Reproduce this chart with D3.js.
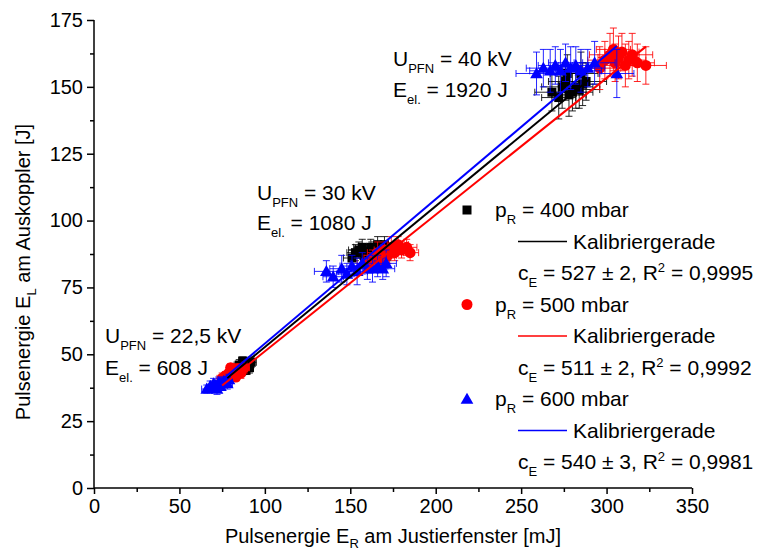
<!DOCTYPE html>
<html>
<head>
<meta charset="utf-8">
<script src="https://cdn.jsdelivr.net/npm/d3@7"></script>
<style>
  body { margin: 0; background: #fff; }
  text { font-family: "Liberation Sans", Arial, sans-serif; fill: #000; }
</style>
</head>
<body>
<div id="chart"></div>
<script>
// each point: [E_R (mJ), E_L (J), error E_R, error E_L]
const p400 = [
  [82, 43, 2, 1.5], [84, 44, 3, 2], [85, 45, 2, 2], [86, 43.5, 3, 1.5], [87, 46, 2, 2], [88, 45, 3, 2],
  [89, 44, 2, 1.5], [90, 46.5, 3, 2], [91, 45, 2, 2], [92, 47, 3, 2], [87, 47.5, 2, 1.5], [85, 46, 3, 2],
  [151, 86, 5, 3], [153, 88, 5, 3], [155, 89, 6, 3], [158, 87, 5, 4], [160, 88, 6, 3], [162, 90, 5, 3],
  [164, 88, 6, 4], [166, 91, 5, 3], [168, 89, 6, 3], [170, 91, 5, 3], [157, 90, 5, 3], [172, 88, 6, 3],
  [268, 148, 10, 7], [272, 146, 10, 8], [274, 150, 12, 8], [276, 152, 10, 7], [278, 147, 10, 8], [280, 148, 12, 7],
  [282, 150, 10, 8], [284, 149, 12, 7], [286, 151, 10, 8], [288, 152, 12, 7], [277, 155, 10, 7], [285, 155, 10, 8]
];
const p500 = [
  [75, 41, 3, 2], [77, 42, 2, 1.5], [78, 40.5, 3, 2], [79, 43, 2, 2], [80, 42, 3, 1.5], [81, 44, 2, 2],
  [82, 43, 3, 2], [83, 41.5, 2, 1.5], [84, 44.5, 3, 2], [86, 43, 2, 2], [88, 45, 3, 2], [80, 45, 2, 1.5],
  [160, 84, 6, 3], [163, 86, 5, 3], [166, 88, 6, 4], [168, 85, 5, 3], [170, 89, 6, 3], [172, 87, 5, 3],
  [174, 90, 6, 4], [176, 88, 5, 3], [178, 91, 6, 3], [180, 89, 5, 3], [183, 90, 6, 3], [185, 88, 5, 3],
  [296, 157, 12, 8], [299, 160, 10, 7], [302, 162, 12, 8], [305, 159, 10, 7], [307, 161, 12, 8], [309, 163, 10, 7],
  [311, 158, 12, 8], [313, 160, 10, 7], [315, 162, 12, 8], [318, 159, 10, 7], [323, 158, 12, 7], [304, 164, 10, 8]
];
const p600 = [
  [66, 37, 3, 1.5], [68, 38, 2, 2], [69, 37.5, 3, 1.5], [70, 39, 2, 2], [71, 38.5, 3, 1.5], [72, 37, 2, 2],
  [73, 39.5, 3, 2], [74, 38, 2, 1.5], [75, 39, 3, 2], [76, 40, 2, 1.5], [78, 39, 3, 2], [79, 40.5, 2, 2],
  [136, 81, 7, 4], [140, 79, 6, 4], [145, 82, 7, 5], [148, 80, 6, 4], [151, 83, 7, 4], [154, 81, 6, 5],
  [157, 84, 7, 4], [160, 82, 6, 4], [163, 82, 7, 5], [166, 83, 6, 4], [169, 82, 7, 4], [171, 84, 6, 5],
  [259, 155, 12, 8], [263, 157, 10, 7], [267, 156, 12, 8], [270, 158, 10, 7], [273, 156, 12, 8], [276, 159, 10, 7],
  [279, 157, 12, 8], [282, 158, 10, 7], [285, 156, 12, 8], [289, 157, 10, 7], [293, 159, 12, 8], [306, 155, 10, 9]
];

const pressures = ["400", "500", "600"];
const calibC = [527, 511, 540];       // c_E, E_L[J] = c_E * E_R[J]
const calibErr = [2, 2, 3];
const rSquared = ["0,9995", "0,9992", "0,9981"];
const fitRange = [[78, 290], [75, 323], [66, 306]];

const voltages = ["22,5 kV", "30 kV", "40 kV"];
const elEnergies = ["608 J", "1080 J", "1920 J"];

const xTickValues = [0, 50, 100, 150, 200, 250, 300, 350];
const yTickValues = [0, 25, 50, 75, 100, 125, 150, 175];

const colors = ["#000000", "#ff0000", "#0000ff"];
const allSeries = [p400, p500, p600];

// set the dimensions and margins of the graph
const width = 757, height = 554;
const margin = {top: 20, right: 65, bottom: 66, left: 94};

const svg = d3.select("#chart").append("svg")
  .attr("width", width)
  .attr("height", height);

const x = d3.scaleLinear().domain([0, 350]).range([margin.left, width - margin.right]);
const y = d3.scaleLinear().domain([0, 175]).range([height - margin.bottom, margin.top]);

// axes
const xAxisG = svg.append("g")
  .attr("transform", `translate(0,${y(0)})`)
  .call(d3.axisBottom(x).tickValues(xTickValues).tickSize(6).tickPadding(5));
svg.append("g")
  .attr("transform", `translate(0,${y(0)})`)
  .call(d3.axisBottom(x).tickValues(d3.range(25, 350, 50)).tickSize(4).tickFormat(""))
  .select(".domain").remove();

const yAxisG = svg.append("g")
  .attr("transform", `translate(${x(0)},0)`)
  .call(d3.axisLeft(y).tickValues(yTickValues).tickSize(7).tickPadding(4));
svg.append("g")
  .attr("transform", `translate(${x(0)},0)`)
  .call(d3.axisLeft(y).tickValues(d3.range(12.5, 175, 25)).tickSize(4).tickFormat(""))
  .select(".domain").remove();

svg.selectAll(".domain").attr("stroke-width", 1.5).attr("stroke", "#000");
svg.selectAll(".tick line").attr("stroke-width", 1.5).attr("stroke", "#000");
svg.selectAll(".tick text")
  .attr("font-size", 20)
  .style("font-family", '"Liberation Sans", Arial, sans-serif');
xAxisG.selectAll(".domain").attr("d", `M${x(0)},0H${x(350)}`);
yAxisG.selectAll(".domain").attr("d", `M0,${y(0)}V${y(175)}`);

// axis titles
const xt = svg.append("text")
  .attr("x", (x(0) + x(350)) / 2)
  .attr("y", 543)
  .attr("text-anchor", "middle")
  .attr("font-size", 20);
xt.append("tspan").text("Pulsenergie E");
xt.append("tspan").attr("font-size", 13).attr("dy", 5).text("R");
xt.append("tspan").attr("dy", -5).text(" am Justierfenster [mJ]");

const yt = svg.append("text")
  .attr("transform", `translate(30,${(y(0) + y(175)) / 2 + 18}) rotate(-90)`)
  .attr("text-anchor", "middle")
  .attr("font-size", 20);
yt.append("tspan").text("Pulsenergie E");
yt.append("tspan").attr("font-size", 13).attr("dy", 6).text("L");
yt.append("tspan").attr("dy", -6).text(" am Auskoppler [J]");

// markers
function drawMarker(g, i, cx, cy) {
  if (i === 0) {
    g.append("rect").attr("x", cx - 4.5).attr("y", cy - 4.5).attr("width", 9).attr("height", 9)
      .attr("fill", colors[i]);
  } else if (i === 1) {
    g.append("circle").attr("cx", cx).attr("cy", cy).attr("r", 5.5).attr("fill", colors[i]);
  } else {
    g.append("path").attr("d", d3.symbol(d3.symbolTriangle, 70)()).attr("transform", `translate(${cx},${cy + 1})`)
      .attr("fill", colors[i]);
  }
}

// error bars and points
allSeries.forEach((data, i) => {
  const g = svg.append("g");
  const cap = 3.5;
  data.forEach(d => {
    const [ex, ey, dx, dy] = d;
    const px = x(ex), py = y(ey);
    const x1 = x(ex - dx), x2 = x(ex + dx), y1 = y(ey - dy), y2 = y(ey + dy);
    const path = `M${x1},${py}H${x2}M${x1},${py - cap}V${py + cap}M${x2},${py - cap}V${py + cap}` +
      `M${px},${y1}V${y2}M${px - cap},${y1}H${px + cap}M${px - cap},${y2}H${px + cap}`;
    g.append("path").attr("d", path).attr("stroke", colors[i]).attr("stroke-width", 1).attr("fill", "none")
      .attr("opacity", 0.85);
  });
  data.forEach(d => drawMarker(g, i, x(d[0]), y(d[1])));
});

// calibration lines
calibC.forEach((c, i) => {
  const line = d3.line().x(d => x(d)).y(d => y(d * c / 1000));
  svg.append("path")
    .datum(fitRange[i])
    .attr("d", line)
    .attr("stroke", colors[i])
    .attr("stroke-width", 2)
    .attr("fill", "none");
});

// annotations
const annoPos = [[105, 343, 375], [257, 200, 230], [393, 66, 97]];
voltages.forEach((v, i) => {
  const [ax, ay1, ay2] = annoPos[i];
  const t1 = svg.append("text").attr("x", ax).attr("y", ay1).attr("font-size", 21);
  t1.append("tspan").text("U");
  t1.append("tspan").attr("font-size", 13).attr("dy", 7).text("PFN");
  t1.append("tspan").attr("dy", -7).text(" = " + v);
  const t2 = svg.append("text").attr("x", ax).attr("y", ay2).attr("font-size", 21);
  t2.append("tspan").text("E");
  t2.append("tspan").attr("font-size", 13).attr("dy", 7).text("el.");
  t2.append("tspan").attr("dy", -7).text(" = " + elEnergies[i]);
});

// legend
const rowH = 31.5;
const legTop = 210;
pressures.forEach((p, i) => {
  const r0 = legTop + i * 3 * rowH;
  drawMarker(svg, i, 467, r0);
  const t = svg.append("text").attr("x", 495).attr("y", r0 + 7).attr("font-size", 21);
  t.append("tspan").text("p");
  t.append("tspan").attr("font-size", 13).attr("dy", 7).text("R");
  t.append("tspan").attr("dy", -7).text(" = " + p + " mbar");

  const r1 = r0 + rowH;
  svg.append("line").attr("x1", 518).attr("x2", 567).attr("y1", r1).attr("y2", r1)
    .attr("stroke", colors[i]).attr("stroke-width", 1.5);
  svg.append("text").attr("x", 573).attr("y", r1 + 7).attr("font-size", 21).text("Kalibriergerade");

  const r2 = r0 + 2 * rowH;
  const t3 = svg.append("text").attr("x", 518).attr("y", r2 + 7).attr("font-size", 21);
  t3.append("tspan").text("c");
  t3.append("tspan").attr("font-size", 13).attr("dy", 7).text("E");
  t3.append("tspan").attr("dy", -7).text(` = ${calibC[i]} \u00b1 ${calibErr[i]}, R`);
  t3.append("tspan").attr("font-size", 13).attr("dy", -8).text("2");
  t3.append("tspan").attr("dy", 8).text(" = " + rSquared[i]);
});
</script>
</body>
</html>
